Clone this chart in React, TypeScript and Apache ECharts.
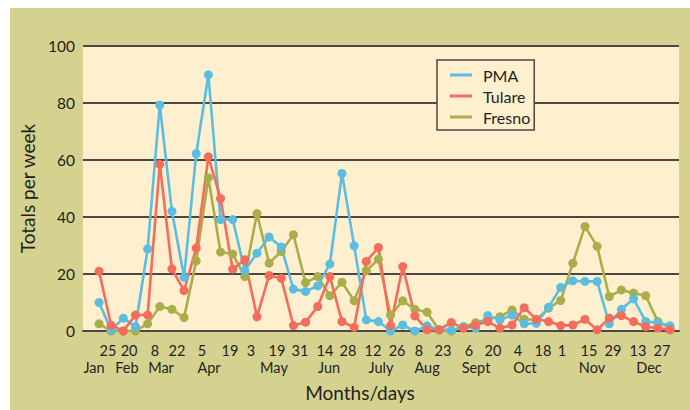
import React, { useEffect, useRef } from "react";
import * as echarts from "echarts";

// Weekly totals (48 weeks)
const pma = [10, 0.3, 4.5, 1.5, 28.8, 79.3, 42, 18.9, 62.2, 89.9, 39.1, 39.1, 21.2, 27.3, 33, 29.5, 14.7, 13.9, 15.8, 23.5, 55.3, 29.9, 3.9, 3.3, 0, 2.1, 0, 1.8, 0.5, 0.3, 1.5, 1, 5.4, 3.9, 5.6, 2.5, 2.7, 8.3, 15.3, 17.6, 17.4, 17.4, 2.5, 7.6, 11.3, 3.3, 2.9, 1.8];
const tulare = [21, 2, 0, 5.6, 5.6, 58.5, 21.8, 14.2, 29.1, 61.1, 46.5, 21.7, 25, 5, 19.5, 18.5, 1.9, 3.1, 8.6, 19.1, 3.3, 1.3, 24.4, 29.3, 1.9, 22.6, 5.3, 0.4, 0.4, 3, 1, 2.1, 3.3, 1, 2.1, 8.2, 4.1, 3.3, 1.9, 2.1, 4.1, 0.4, 4.5, 5.4, 3.3, 1.5, 1, 0.4];
const fresno = [2.5, 0, 0, 0, 2.5, 8.6, 7.6, 4.7, 24.6, 53.8, 27.7, 27, 19.1, 41.2, 23.8, 27.9, 33.8, 17, 19.1, 12.4, 17.1, 10.6, 21.2, 25.2, 5.6, 10.6, 7.6, 6.6, 0.3, 0, 1.5, 2.9, 4.1, 5, 7.4, 4.1, 3.9, 8, 10.7, 23.8, 36.7, 29.7, 12.1, 14.4, 13.3, 12.4, 3.3, 1];

// Day tick labels and their positions (in week-index units)
const dayLabels = ["25", "20", "8", "22", "5", "19", "3", "19", "31", "14", "28", "12", "26", "8", "23", "6", "20", "4", "18", "1", "15", "29", "13", "27"];
const dayPos = [0.74, 2.47, 4.61, 6.42, 8.48, 10.78, 12.51, 14.65, 16.54, 18.6, 20.49, 22.55, 24.53, 26.34, 28.31, 30.45, 32.43, 34.49, 36.54, 38.11, 40.33, 42.3, 44.36, 46.34];
// Month labels and positions
const monthLabels = ["Jan", "Feb", "Mar", "Apr", "May", "Jun", "July", "Aug", "Sept", "Oct", "Nov", "Dec"];
const monthPos = [-0.41, 2.3, 5.1, 9.05, 14.4, 18.93, 23.21, 27.0, 31.03, 35.06, 40.58, 45.27];

const yTicks = [0, 20, 40, 60, 80, 100];

const FONT = "Lato";
const TEXT = "#231f20";
const GRIDC = "#4b4742";

function lookup(pos: number[], labels: string[]) {
  return (v: number) => {
    for (let i = 0; i < pos.length; i++) if (Math.abs(pos[i] - v) < 1e-6) return labels[i];
    return "";
  };
}

export default function App() {
  const ref = useRef<HTMLDivElement>(null);
  useEffect(() => {
    if (!ref.current) return;
    const chart = echarts.init(ref.current, null, { renderer: "svg" });
    const toPts = (arr: number[]) => arr.map((v, i) => [i, v]);
    const xMin = -1.32;
    const xMax = 47.74;
    const mk = (name: string, data: number[], color: string) => ({
      name,
      type: "line",
      data: toPts(data),
      symbol: "circle",
      symbolSize: 9,
      showSymbol: true,
      lineStyle: { color, width: 2.6 },
      itemStyle: { color },
      xAxisIndex: 0,
    });
    chart.setOption({
      animation: false,
      backgroundColor: "#D5D28F",
      textStyle: { fontFamily: FONT },
      grid: {
        left: 73,
        right: 11,
        top: 38,
        bottom: 79,
        show: true,
        backgroundColor: "#FEF0CE",
        borderWidth: 0,
      },
      graphic: [
        {
          type: "text",
          x: 350,
          y: 384,
          style: {
            text: "Months/days",
            align: "center",
            verticalAlign: "middle",
            fontSize: 19,
            fontFamily: FONT,
            fill: TEXT,
          },
        },
      ],
      legend: {
        data: ["PMA", "Tulare", "Fresno"],
        orient: "vertical",
        left: 427,
        top: 52,
        padding: [6, 4, 4, 13],
        itemGap: 3,
        itemWidth: 22,
        itemHeight: 3,
        icon: "rect",
        backgroundColor: "#FEF0CE",
        borderColor: GRIDC,
        borderWidth: 1.5,
        borderRadius: 0,
        textStyle: { fontSize: 16, color: TEXT, fontFamily: FONT, lineHeight: 18, padding: [0, 0, 0, 6] },
      },
      xAxis: [
        {
          type: "value",
          min: xMin,
          max: xMax,
          position: "bottom",
          axisLine: { show: true, lineStyle: { color: GRIDC, width: 2 } },
          axisTick: { show: false },
          splitLine: { show: false },
          axisLabel: {
            customValues: dayPos,
            formatter: lookup(dayPos, dayLabels),
            fontSize: 14.5,
            lineHeight: 16,
            color: TEXT,
            fontFamily: FONT,
            margin: 11,
          },
        },
        {
          type: "value",
          min: xMin,
          max: xMax,
          position: "bottom",
          offset: 17.5,
          axisLine: { show: false },
          axisTick: { show: false },
          splitLine: { show: false },
          axisLabel: {
            customValues: monthPos,
            formatter: lookup(monthPos, monthLabels),
            fontSize: 14.5,
            lineHeight: 16,
            color: TEXT,
            fontFamily: FONT,
            margin: 11,
          },
        },
      ],
      yAxis: {
        type: "value",
        min: yTicks[0],
        max: yTicks[yTicks.length - 1],
        interval: 20,
        name: "Totals per week",
        nameLocation: "middle",
        nameRotate: 90,
        nameGap: 41,
        nameTextStyle: { fontSize: 19, color: TEXT, fontFamily: FONT },
        axisLine: { show: false },
        axisTick: { show: true, length: 6, lineStyle: { color: GRIDC, width: 1.5 } },
        splitLine: { show: true, lineStyle: { color: GRIDC, width: 2 } },
        axisLabel: { fontSize: 15.5, color: TEXT, fontFamily: FONT, margin: 8 },
      },
      series: [
        mk("Fresno", fresno, "#AAAE4A"),
        mk("PMA", pma, "#5BBDE2"),
        mk("Tulare", tulare, "#F36C5C"),
      ],
    });
    return () => chart.dispose();
  }, []);
  return (
    <div
      ref={ref}
      style={{ position: "absolute", left: 10, top: 8, width: 680, height: 402 }}
    />
  );
}
